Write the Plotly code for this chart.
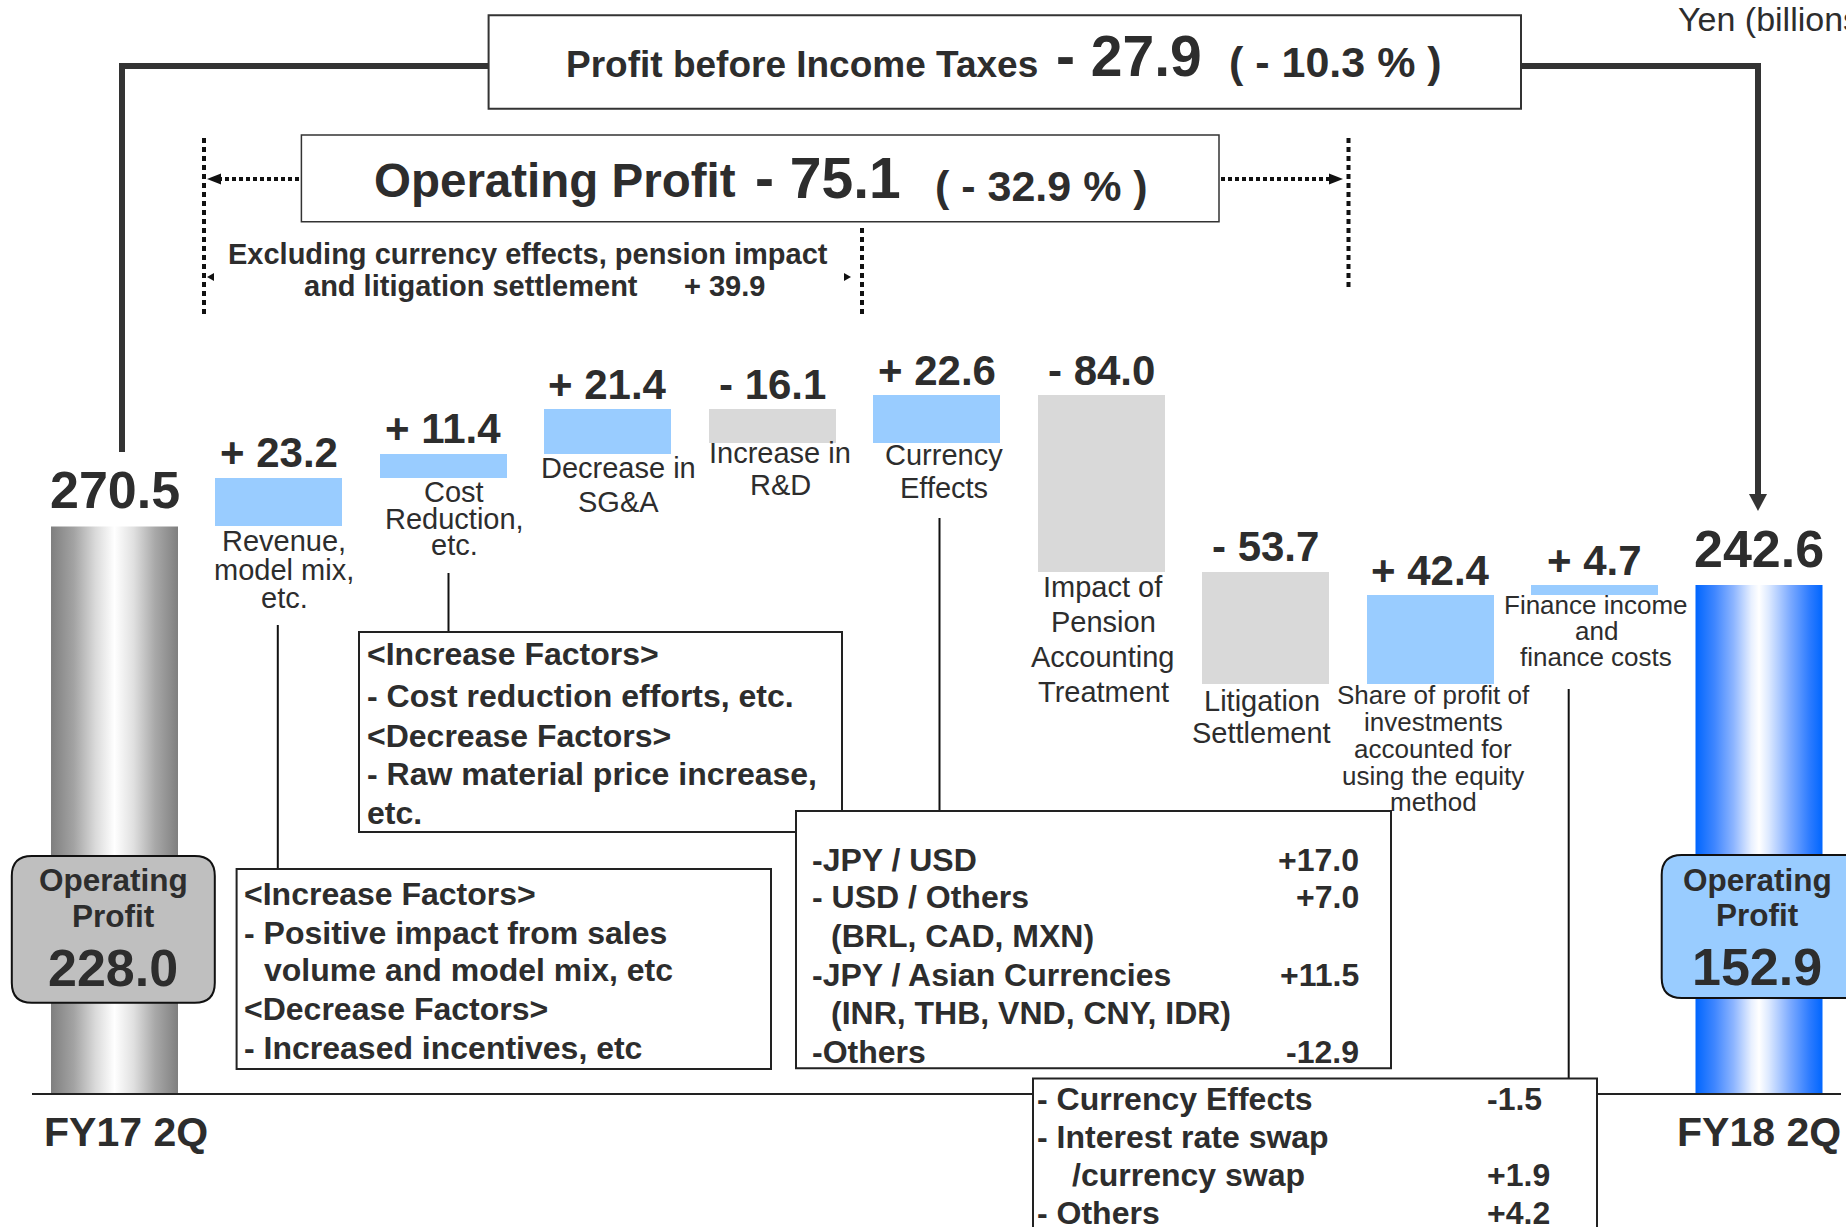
import plotly.graph_objects as go

# ---------------- data ----------------
categories = ["FY17 2Q", "Revenue, model mix, etc.", "Cost Reduction, etc.", "Decrease in SG&A",
              "Increase in R&D", "Currency Effects", "Impact of Pension Accounting Treatment",
              "Litigation Settlement",
              "Share of profit of investments accounted for using the equity method",
              "Finance income and finance costs", "FY18 2Q"]
start_value = 270.5          # FY17 2Q profit before income taxes
end_value = 242.6            # FY18 2Q profit before income taxes
deltas = [23.2, 11.4, 21.4, -16.1, 22.6, -84.0, -53.7, 42.4, 4.7]
op_profit_start = 228.0
op_profit_end = 152.9
pbt_change = -27.9
pbt_change_pct = -10.3
op_change = -75.1
op_change_pct = -32.9
excl_change = 39.9

cat_lines = [None,
             ["Revenue,", "model mix,", "etc."],
             ["Cost", "Reduction,", "etc."],
             ["Decrease in", "SG&amp;A"],
             ["Increase in", "R&amp;D"],
             ["Currency", "Effects"],
             ["Impact of", "Pension", "Accounting", "Treatment"],
             ["Litigation", "Settlement"],
             ["Share of profit of", "investments", "accounted for", "using the equity", "method"],
             ["Finance income", "and", "finance costs"],
             None]

boxA_lines = ["&lt;Increase Factors&gt;", "- Cost reduction efforts, etc.", "&lt;Decrease Factors&gt;",
              "- Raw material price increase,", "etc."]
boxB_lines = ["&lt;Increase Factors&gt;", "- Positive impact from sales", "volume and model mix, etc",
              "&lt;Decrease Factors&gt;", "- Increased incentives, etc"]
currency_items = ["-JPY / USD", "- USD / Others", "(BRL, CAD, MXN)", "-JPY / Asian Currencies",
                  "(INR, THB, VND, CNY, IDR)", "-Others"]
currency_values = ["+17.0", "+7.0", "", "+11.5", "", "-12.9"]
finance_items = ["- Currency Effects", "- Interest rate swap", "/currency swap", "- Others"]
finance_values = ["-1.5", "", "+1.9", "+4.2"]

# ---------------- geometry / style ----------------
W, H = 1846, 1227
OFF = 0
FONT = "Liberation Sans, Arial, sans-serif"
TXT = "#2d2d2d"
BLUE = "#99CCFF"
GRAY = "#D9D9D9"
PX_PER_UNIT = 2.098
BASE_FIG_Y = 1094.0
SLOT = 164.45
FIRST_X = 114.5
BAR_W = 127 / SLOT


def px(X):
    return (X - OFF) / W


def py(Y):
    return 1 - (Y - OFF) / H


shapes = []
ann = []


def T(X, Y, s, size, bold=True, anchor="left", color=TXT):
    ann.append(dict(x=px(X), y=py(Y), xref="paper", yref="paper", text=s, showarrow=False,
                    xanchor=anchor, yanchor="middle", borderpad=0, borderwidth=0,
                    font=dict(family=FONT, size=size, color=color, weight=700 if bold else 400)))


def rect(x0, y0, x1, y1, line="#222", lw=2, fill="white"):
    shapes.append(dict(type="rect", xref="paper", yref="paper", x0=px(x0), x1=px(x1),
                       y0=py(y1), y1=py(y0), line=dict(color=line, width=lw), fillcolor=fill,
                       layer="above"))


def line(x0, y0, x1, y1, color="#111", lw=2, dash="solid"):
    shapes.append(dict(type="line", xref="paper", yref="paper", x0=px(x0), x1=px(x1),
                       y0=py(y0), y1=py(y1), line=dict(color=color, width=lw, dash=dash),
                       layer="above"))


def poly(pts, color="#222", fill=True, lw=0):
    d = "M " + " L ".join(f"{px(a):.6f},{py(b):.6f}" for a, b in pts) + (" Z" if fill else "")
    shapes.append(dict(type="path", xref="paper", yref="paper", path=d,
                       fillcolor=color if fill else "rgba(0,0,0,0)",
                       line=dict(color=color, width=lw), layer="above"))


def rounded(x0, y0, x1, y1, r, fill, line_c="#111", lw=2):
    rx, ry = r, r
    P = lambda a, b: f"{px(a):.6f},{py(b):.6f}"
    d = (f"M {P(x0 + rx, y0)} L {P(x1 - rx, y0)} Q {P(x1, y0)} {P(x1, y0 + ry)} "
         f"L {P(x1, y1 - ry)} Q {P(x1, y1)} {P(x1 - rx, y1)} "
         f"L {P(x0 + rx, y1)} Q {P(x0, y1)} {P(x0, y1 - ry)} "
         f"L {P(x0, y0 + ry)} Q {P(x0, y0)} {P(x0 + rx, y0)} Z")
    shapes.append(dict(type="path", xref="paper", yref="paper", path=d, fillcolor=fill,
                       line=dict(color=line_c, width=lw), layer="above"))


fig = go.Figure()

# ---------------- bars ----------------
n = len(categories)
levels = [start_value]
for d in deltas:
    levels.append(levels[-1] + d)

bx, by, bbase, bcol = [], [], [], []
for i, d in enumerate(deltas, start=1):
    lo, hi = min(levels[i - 1], levels[i]), max(levels[i - 1], levels[i])
    bx.append(i)
    by.append(hi - lo)
    bbase.append(lo)
    bcol.append(BLUE if d > 0 else GRAY)
fig.add_trace(go.Bar(x=bx, y=by, base=bbase, width=BAR_W, marker=dict(color=bcol, line=dict(width=0)),
                     hoverinfo="skip"))

gray_scale = [[0, "#7f7f7f"], [0.18, "#a3a3a3"], [0.35, "#dadada"], [0.5, "#ffffff"],
              [0.65, "#e0e0e0"], [0.82, "#a8a8a8"], [1, "#7f7f7f"]]
blue_scale = [[0, "#0066ff"], [0.15, "#3f86ff"], [0.3, "#8db5ff"], [0.44, "#e8f0ff"], [0.5, "#ffffff"],
              [0.58, "#dbe8ff"], [0.75, "#7aa9ff"], [0.9, "#2c7bff"], [1, "#0066ff"]]
for i, v, sc in [(0, start_value, gray_scale), (n - 1, end_value, blue_scale)]:
    x0, x1 = i - BAR_W / 2, i + BAR_W / 2
    fig.add_trace(go.Scatter(x=[x0, x1, x1, x0, x0], y=[0, 0, v, v, 0], mode="lines",
                             line=dict(width=0), fill="toself", hoverinfo="skip",
                             fillgradient=dict(type="horizontal", colorscale=sc, start=x0, stop=x1)))

# value labels above bars
for i, d in enumerate(deltas, start=1):
    top = max(levels[i - 1], levels[i])
    lab = f"{'+' if d > 0 else '-'} {abs(d):.1f}"
    ann.append(dict(x=i, y=top, xref="x", yref="y", text=lab, showarrow=False, yshift=25,
                    xanchor="center", yanchor="middle", borderpad=0, borderwidth=0,
                    font=dict(family=FONT, size=42, color=TXT, weight=700)))
for i, v in [(0, start_value), (n - 1, end_value)]:
    ann.append(dict(x=i, y=v, xref="x", yref="y", text=f"{v:.1f}", showarrow=False, yshift=36,
                    xanchor="center", yanchor="middle", borderpad=0, borderwidth=0,
                    font=dict(family=FONT, size=52, color=TXT, weight=700)))

# category labels (page positions: center x, line center ys, size)
cat_pos = {1: (284, [541, 569.5, 598], 29),
           2: (454, [492, 518.5, 545], 29),
           3: (618.5, [468.5, 501.5], 29),
           4: (780, [452.5, 485], 29),
           5: (943.5, [455.5, 487.5], 29),
           6: (1103, [586.5, 621.5, 656.5, 691.5], 29),
           7: (1261.5, [701, 733], 29),
           8: (1433, [695, 722, 749, 775.5, 801.5], 26),
           9: (1596, [605, 630.5, 656.5], 26)}
for i, (cx, ys, sz) in cat_pos.items():
    for s, yy in zip(cat_lines[i], ys):
        T(cx, yy, s, sz, bold=False, anchor="center")

# ---------------- header boxes & connectors ----------------
rect(488.6, 15.3, 1521, 108.8, line="#333", lw=2)
T(566, 64, "Profit before Income Taxes", 37)
T(1056, 55.5, f"- {abs(pbt_change):.1f}", 57)
T(1229, 62, f"( - {abs(pbt_change_pct):.1f} % )", 43)
T(1678, 19.5, "Yen (billions)", 34, bold=False)

poly([(122, 452), (122, 66), (488.6, 66)], color="#333", fill=False, lw=6)
poly([(1521, 66), (1758, 66), (1758, 497)], color="#333", fill=False, lw=6)
poly([(1749, 494), (1767, 494), (1758, 511)], color="#333")

rect(301.4, 135, 1219, 221.7, line="#333", lw=1.5)
T(373.7, 181, "Operating Profit", 47.5)
T(755, 178, f"- {abs(op_change):.1f}", 57)
T(935, 186, f"( - {abs(op_change_pct):.1f} % )", 43)

DOT = "5px,4px"
line(204, 138, 204, 318, color="#111", lw=4, dash=DOT)
line(862, 228, 862, 318, color="#111", lw=4, dash=DOT)
line(1348.5, 138, 1348.5, 287, color="#111", lw=4, dash=DOT)
line(299, 179, 220, 179, color="#111", lw=4, dash="4px,3px")
poly([(207, 179), (221, 173.5), (221, 184.5)], color="#111")
line(1221, 179, 1330, 179, color="#111", lw=4, dash="4px,3px")
poly([(1343, 179), (1329, 173.5), (1329, 184.5)], color="#111")
poly([(207, 277), (214, 273), (214, 281)], color="#111")
poly([(851, 277), (844, 273), (844, 281)], color="#111")

T(228, 254, "Excluding currency effects, pension impact", 29)
T(303.7, 286, "and litigation settlement", 29)
T(684, 286, f"+ {excl_change:.1f}", 29)

# ---------------- explanation boxes ----------------
line(277.8, 625, 277.8, 869, color="#111", lw=2)
line(448.5, 573, 448.5, 632, color="#111", lw=2)
line(939.5, 518, 939.5, 811, color="#111", lw=2)
line(1568.7, 689, 1568.7, 1079, color="#111", lw=2)

rect(359, 632, 842, 832)
for s, yy in zip(boxA_lines, [653.5, 696, 736, 774, 812.5]):
    T(367, yy, s, 32)

rect(236.6, 869, 771, 1069)
for s, xx, yy in zip(boxB_lines, [243.7, 243.7, 263.7, 243.7, 243.7], [893.5, 932.5, 970, 1009, 1048]):
    T(xx, yy, s, 32)

rect(796, 811, 1391, 1068.3)
cur_y = [859.5, 897, 936, 975, 1012.5, 1051.5]
for s, v, xx, yy in zip(currency_items, currency_values, [812, 812, 831, 812, 831, 812], cur_y):
    T(xx, yy, s, 32)
    if v:
        T(1359, yy, v, 32, anchor="right")

line(32, 1094, 1841, 1094, color="#222", lw=2)
rect(1033, 1078.4, 1597, 1250)
fin_y = [1098.5, 1137, 1175, 1213]
for s, v, xx, yy in zip(finance_items, finance_values, [1037, 1037, 1072, 1037], fin_y):
    T(xx, yy, s, 32)
    if v:
        T(1487, yy, v, 32)

# operating profit rounded boxes
rounded(11.8, 856, 214.8, 1002.7, 20, "#BFBFBF")
T(113, 880, "Operating", 31.5, anchor="center")
T(113, 916, "Profit", 31.5, anchor="center")
T(113, 968, f"{op_profit_start:.1f}", 52, anchor="center")
rounded(1661.7, 855, 1875, 998, 20, BLUE)
T(1757, 880, "Operating", 31.5, anchor="center")
T(1757, 915, "Profit", 31.5, anchor="center")
T(1757, 966.5, f"{op_profit_end:.1f}", 52, anchor="center")

# period labels
T(125.7, 1132, categories[0], 41, anchor="center")
T(1758.6, 1132, categories[-1], 41, anchor="center")

fig.update_layout(
    width=W, height=H, margin=dict(l=0, r=0, t=0, b=0, pad=0),
    paper_bgcolor="white", plot_bgcolor="white", showlegend=False,
    xaxis=dict(range=[-FIRST_X / SLOT, (W - FIRST_X) / SLOT], visible=False, fixedrange=True),
    yaxis=dict(range=[-(H - BASE_FIG_Y) / PX_PER_UNIT, BASE_FIG_Y / PX_PER_UNIT], visible=False,
               fixedrange=True),
    shapes=shapes, annotations=ann, bargap=0,
)
fig.write_html("out.html", config={"displayModeBar": False},
               post_script="document.body.style.margin='0px';document.documentElement.style.overflow='hidden';")
